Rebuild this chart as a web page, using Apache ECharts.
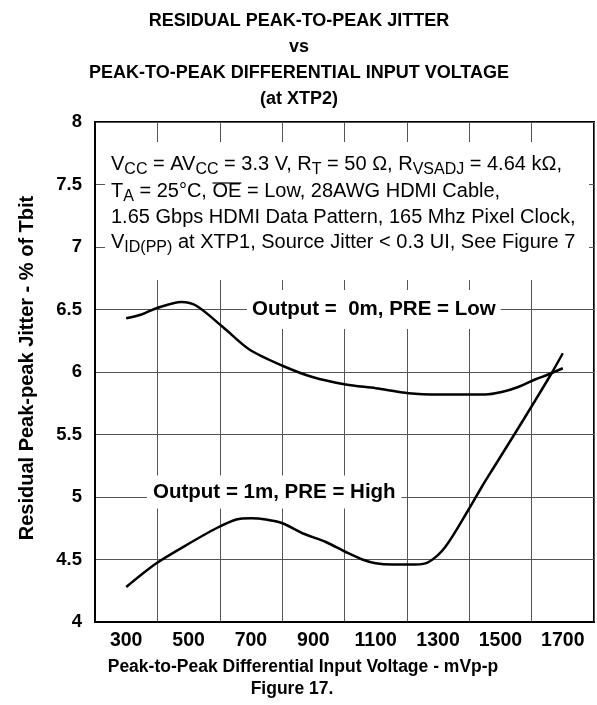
<!DOCTYPE html>
<html>
<head>
<meta charset="utf-8">
<script src="https://cdn.jsdelivr.net/npm/echarts@6/dist/echarts.min.js"></script>
<style>
html,body{margin:0;padding:0;background:#fff;}
#chart{width:597px;height:705px;}
</style>
</head>
<body>
<div id="chart"></div>
<script>
// Data
var voltage0m = [300, 349, 397, 477, 525, 610, 695, 801, 897, 1004, 1100, 1206, 1302, 1451, 1504, 1557, 1611, 1653, 1700];
var jitter0m  = [6.43, 6.46, 6.51, 6.56, 6.53, 6.36, 6.18, 6.05, 5.96, 5.90, 5.87, 5.83, 5.82, 5.82, 5.84, 5.88, 5.94, 5.98, 6.03];
var voltage1m = [300, 397, 503, 589, 653, 700, 748, 801, 865, 940, 1004, 1057, 1100, 1153, 1227, 1270, 1323, 1398, 1440, 1472, 1547, 1611, 1664, 1700];
var jitter1m  = [4.28, 4.47, 4.63, 4.75, 4.82, 4.83, 4.82, 4.79, 4.71, 4.64, 4.56, 4.50, 4.47, 4.46, 4.46, 4.48, 4.60, 4.90, 5.08, 5.21, 5.51, 5.77, 5.99, 6.15];
var xTickLabels = [300, 500, 700, 900, 1100, 1300, 1500, 1700];
var yTickLabels = ['4', '4.5', '5', '5.5', '6', '6.5', '7', '7.5', '8'];
var label0m = 'Output =  0m, PRE = Low';
var label1m = 'Output = 1m, PRE = High';
var label0mAt = [1094, 6.5];
var label1mAt = [775, 5.04];
var titleLines = ['RESIDUAL PEAK-TO-PEAK JITTER', 'vs', 'PEAK-TO-PEAK DIFFERENTIAL INPUT VOLTAGE', '(at XTP2)'];
var xAxisName = 'Peak-to-Peak Differential Input Voltage - mVp-p';
var yAxisName = 'Residual Peak-peak Jitter - % of Tbit';
var figureLabel = 'Figure 17.';
var condLines = [
  'V{sub|CC} = AV{sub|CC} = 3.3 V, R{sub|T} = 50 \u03A9, R{sub|VSADJ} = 4.64 k\u03A9,',
  'T{sub|A} = 25\u00B0C, OE = Low, 28AWG HDMI Cable,',
  '1.65 Gbps HDMI Data Pattern, 165 Mhz Pixel Clock,',
  'V{sub|ID(PP)} at XTP1, Source Jitter < 0.3 UI, See Figure 7'
];

var FONT = '"Liberation Sans", Arial, Helvetica, sans-serif';
var COND_FS = 20, SUB_FS = 16;
var chart = echarts.init(document.getElementById('chart'), null, {renderer: 'canvas'});

function toPairs(xs, ys) { return xs.map(function (x, i) { return [x, ys[i]]; }); }

// measure overline position for "OE"
var mc = document.createElement('canvas').getContext('2d');
mc.font = COND_FS + 'px ' + FONT; var wT = mc.measureText('T').width;
mc.font = SUB_FS + 'px ' + FONT; var wA = mc.measureText('A').width;
mc.font = COND_FS + 'px ' + FONT; var wPre = mc.measureText(' = 25\u00B0C, ').width; var wOE = mc.measureText('OE').width;
var condX = 111;
var condY = [164, 191, 217, 242];
var olX0 = condX + wT + wA + wPre;

var graphics = [
  {type: 'rect', shape: {x: 105, y: 142, width: 484, height: 138}, style: {fill: '#fff'}, z: 5, silent: true}
];
condLines.forEach(function (t, i) {
  graphics.push({
    type: 'text', x: condX, y: condY[i], z: 6,
    style: {
      text: t, fontSize: COND_FS, fontFamily: FONT, fill: '#000',
      textAlign: 'left', textVerticalAlign: 'middle', lineHeight: 22,
      rich: {sub: {fontSize: SUB_FS, fontFamily: FONT, lineHeight: 16, padding: [12, 0, 0, 0]}}
    }
  });
});
graphics.push({type: 'line', z: 6, shape: {x1: olX0, y1: 183, x2: olX0 + wOE, y2: 183}, style: {stroke: '#000', lineWidth: 1.2}});
graphics.push({type: 'text', x: 27, y: 368, rotation: Math.PI / 2, style: {text: yAxisName, fontSize: 20, fontWeight: 'bold', fontFamily: FONT, fill: '#000', textAlign: 'center', textVerticalAlign: 'middle'}});
graphics.push({type: 'text', x: 303, y: 667, style: {text: xAxisName, fontSize: 17.5, fontWeight: 'bold', fontFamily: FONT, fill: '#000', textAlign: 'center', textVerticalAlign: 'middle'}});
graphics.push({type: 'text', x: 292, y: 689, style: {text: figureLabel, fontSize: 17.5, fontWeight: 'bold', fontFamily: FONT, fill: '#000', textAlign: 'center', textVerticalAlign: 'middle'}});

function markLabel(text, at, pad) {
  return {
    symbol: 'circle', symbolSize: 1, itemStyle: {color: 'rgba(0,0,0,0)'}, silent: true,
    label: {show: true, position: 'inside', formatter: text, color: '#000', fontSize: 20.5, fontWeight: 'bold', fontFamily: FONT, backgroundColor: '#fff', padding: pad},
    data: [{coord: at}]
  };
}

var option = {
  animation: false,
  backgroundColor: '#fff',
  title: {
    text: titleLines.join('\n'), left: 294, top: 3, textAlign: 'center',
    textStyle: {fontSize: 18, fontWeight: 'bold', fontFamily: FONT, color: '#000', lineHeight: 26}
  },
  grid: {left: 95, top: 122, right: 1, bottom: 83, show: true, borderColor: '#000', borderWidth: 2, backgroundColor: 'transparent'},
  xAxis: [
    {
      type: 'value', min: 200, max: 1800, interval: 200,
      axisLine: {show: true, lineStyle: {color: '#000', width: 2}},
      axisTick: {show: false}, axisLabel: {show: false},
      splitLine: {show: true, lineStyle: {color: '#555', width: 1}}
    },
    {
      type: 'value', min: 200, max: 1800, interval: 100, position: 'bottom',
      axisLine: {show: false}, axisTick: {show: false}, splitLine: {show: false},
      axisLabel: {
        show: true, margin: 9, fontSize: 19.5, fontWeight: 'bold', fontFamily: FONT, color: '#000',
        formatter: function (v) { return xTickLabels.indexOf(v) >= 0 ? String(v) : ''; }
      }
    }
  ],
  yAxis: {
    type: 'value', min: 4, max: 8, interval: 0.5,
    axisLine: {show: true, lineStyle: {color: '#000', width: 2}},
    axisTick: {show: false},
    axisLabel: {margin: 13, fontSize: 18.5, fontWeight: 'bold', fontFamily: FONT, color: '#000',
      formatter: function (v) { var i = Math.round((v - 4) / 0.5); return yTickLabels[i]; }},
    splitLine: {show: true, lineStyle: {color: '#555', width: 1}}
  },
  series: [
    {
      name: label0m, type: 'line', xAxisIndex: 0, data: toPairs(voltage0m, jitter0m),
      smooth: 0.3, showSymbol: false, lineStyle: {color: '#000', width: 2.5}, z: 3,
      markPoint: markLabel(label0m, label0mAt, [9, 5, 9, 5])
    },
    {
      name: label1m, type: 'line', xAxisIndex: 0, data: toPairs(voltage1m, jitter1m),
      smooth: 0.3, showSymbol: false, lineStyle: {color: '#000', width: 2.5}, z: 3,
      markPoint: markLabel(label1m, label1mAt, [6, 6, 6, 6])
    }
  ],
  graphic: graphics
};
chart.setOption(option);
</script>
</body>
</html>
